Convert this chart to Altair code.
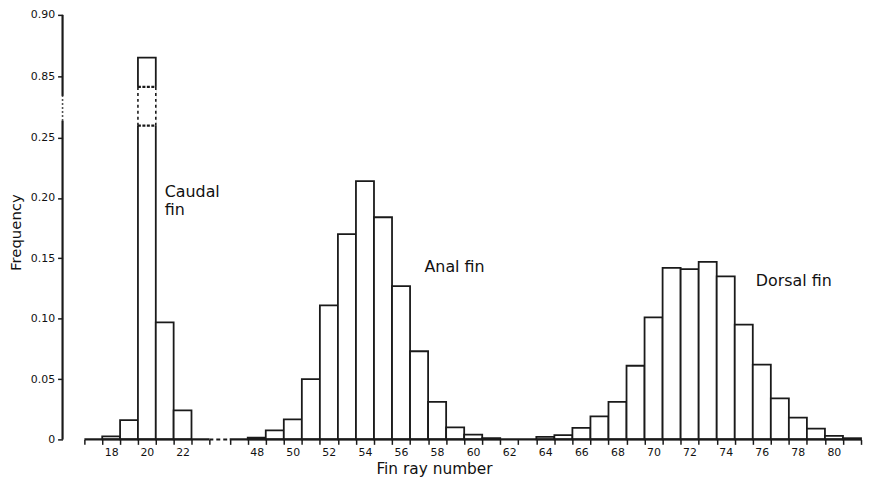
import altair as alt
import numpy as np
import pandas as pd

# ---------------- data ----------------
caudal_rays = [18, 19, 20, 21, 22]
caudal_freq = [0.0025, 0.016, 0.865, 0.097, 0.024]

anal_rays = list(range(48, 62))
anal_freq = [0.0015, 0.0074, 0.0165, 0.050, 0.111, 0.170, 0.214, 0.184,
             0.127, 0.073, 0.031, 0.010, 0.004, 0.001]

dorsal_rays = list(range(64, 82))
dorsal_freq = [0.002, 0.0035, 0.0095, 0.019, 0.031, 0.061, 0.101, 0.142,
               0.141, 0.147, 0.135, 0.095, 0.062, 0.034, 0.018, 0.009,
               0.003, 0.001]

x_tick_labels = [18, 20, 22, 48, 50, 52, 54, 56, 58, 60, 62, 64, 66, 68,
                 70, 72, 74, 76, 78, 80]
y_tick_values = [0, 0.05, 0.10, 0.15, 0.20, 0.25, 0.85, 0.90]

# broken axes: x (caudal part | fins part), y (0-0.25 | 0.85-0.90)
x_axis_solid = [(16.5, 23.5), (46.5, 81.5)]
x_axis_dashed = [(23.5, 46.5)]
y_axis_solid = [(0.0, 0.415), (0.656, 0.90)]
y_axis_dotted = [(0.415, 0.656)]
caudal_break = (0.366, 0.744)  # broken part of the tall caudal bar (ray 20)

annotations = [
    ("Caudal", 21.0, 0.205),
    ("fin", 21.0, 0.190),
    ("Anal fin", 57.3, 0.143),
    ("Dorsal fin", 75.67, 0.1315),
]

# ---------------- tables ----------------
rows = []
for fin, rays, freqs in [("Caudal", caudal_rays, caudal_freq),
                         ("Anal", anal_rays, anal_freq),
                         ("Dorsal", dorsal_rays, dorsal_freq)]:
    for r, f in zip(rays, freqs):
        rows.append({"fin": fin, "ray": r, "freq": f})
bars_df = pd.DataFrame(rows)

tick_edges = [float(v) for a, b in x_axis_solid for v in np.arange(a, b + 0.01, 1.0)]

xsolid_df = pd.DataFrame([{"a": a, "b": b} for a, b in x_axis_solid])
xdash_df = pd.DataFrame([{"a": a, "b": b} for a, b in x_axis_dashed])
ysolid_df = pd.DataFrame([{"a": a, "b": b} for a, b in y_axis_solid])
ydot_df = pd.DataFrame([{"a": a, "b": b} for a, b in y_axis_dotted])

big_ray = caudal_rays[int(np.argmax(caudal_freq))]
break_df = pd.DataFrame([{"ray": big_ray, "lo": caudal_break[0], "hi": caudal_break[1]}])
break_sides_df = pd.DataFrame([{"x": big_ray - 0.5}, {"x": big_ray + 0.5}])
break_lines_df = pd.DataFrame([{"y": caudal_break[0], "ray": big_ray},
                               {"y": caudal_break[1], "ray": big_ray}])
ann_df = pd.DataFrame(annotations, columns=["text", "x", "y"])

# ---------------- scales / axes ----------------
INK = "#1a1a1a"
FONT = "DejaVu Sans"

xscale = alt.Scale(domain=[16.5, 23.5, 46.5, 81.5], range=[22, 148, 168.5, 805],
                   zero=False, nice=False)
yscale = alt.Scale(domain=[0, 0.25, 0.85, 0.90], range=[428, 123.7, 61.7, 0],
                   zero=False, nice=False)

label_expr = (f"indexof({x_tick_labels}, datum.value + 0.5) >= 0 ? "
              f"format(datum.value + 0.5, 'd') : ''")

xaxis = alt.Axis(values=tick_edges, labelExpr=label_expr, labelOffset=9,
                 domain=False, grid=False, ticks=True, tickSize=5, tickWidth=1.5,
                 tickColor=INK, labelFont=FONT, labelFontSize=11, labelColor="#111",
                 labelPadding=2, labelFlush=False, labelOverlap=False,
                 title="Fin ray number", titleFont=FONT, titleFontSize=15.5,
                 titleFontWeight="normal", titleColor="#111", titleX=374.5,
                 titleY=34, titleAlign="center", titleBaseline="alphabetic")

yaxis = alt.Axis(values=y_tick_values,
                 labelExpr="datum.value == 0 ? '0' : format(datum.value, '.2f')",
                 domain=False, grid=False, tickSize=5, tickWidth=1.5, tickColor=INK,
                 labelFont=FONT, labelFontSize=11, labelColor="#111", labelPadding=3,
                 labelFlush=False, labelOverlap=False,
                 title="Frequency", titleFont=FONT, titleFontSize=15,
                 titleFontWeight="normal", titleColor="#111", titleAngle=270,
                 titleX=-47, titleY=219, titleAlign="center", titleBaseline="middle")


def X(field):
    return alt.X(field, scale=xscale, axis=xaxis)


def Y(field):
    return alt.Y(field, scale=yscale, axis=yaxis)


# ---------------- layers ----------------
bars = alt.Chart(bars_df).transform_calculate(
    lo="datum.ray - 0.5", hi="datum.ray + 0.5", base="0"
).mark_rect(fill="white", stroke=INK, strokeWidth=1.8).encode(
    x=X("lo:Q"), x2="hi:Q",
    y=Y("base:Q"), y2="freq:Q",
)

mask = alt.Chart(break_df).transform_calculate(
    x0="datum.ray - 0.56", x1="datum.ray + 0.56"
).mark_rect(fill="white", strokeWidth=0).encode(
    x=X("x0:Q"), x2="x1:Q",
    y=Y("lo:Q"), y2="hi:Q",
)

sides = alt.Chart(break_sides_df).transform_calculate(
    lo=str(caudal_break[0]), hi=str(caudal_break[1])
).mark_rule(color=INK, strokeWidth=1.6, strokeDash=[3, 3]).encode(
    x=X("x:Q"),
    y=Y("lo:Q"), y2="hi:Q",
)

waves = alt.Chart(break_lines_df).transform_calculate(
    x0="datum.ray - 0.5", x1="datum.ray + 0.5"
).mark_rule(color=INK, strokeWidth=2.2, strokeDash=[3, 1.5]).encode(
    x=X("x0:Q"), x2="x1:Q",
    y=Y("y:Q"),
)

xline_solid = alt.Chart(xsolid_df).transform_calculate(base="0").mark_rule(
    color=INK, strokeWidth=2.4).encode(
    x=X("a:Q"), x2="b:Q",
    y=Y("base:Q"),
)
xline_dash = alt.Chart(xdash_df).transform_calculate(base="0").mark_rule(
    color=INK, strokeWidth=2, strokeDash=[4, 3]).encode(
    x=X("a:Q"), x2="b:Q",
    y=Y("base:Q"),
)
yline_solid = alt.Chart(ysolid_df).mark_rule(color=INK, strokeWidth=2.2).encode(
    x=alt.value(0),
    y=Y("a:Q"), y2="b:Q",
)
yline_dot = alt.Chart(ydot_df).mark_rule(color=INK, strokeWidth=1.6,
                                         strokeDash=[1.5, 2.5]).encode(
    x=alt.value(0),
    y=Y("a:Q"), y2="b:Q",
)

texts = alt.Chart(ann_df).mark_text(align="left", baseline="middle", font=FONT,
                                    fontSize=16, color="#111").encode(
    x=X("x:Q"),
    y=Y("y:Q"),
    text="text:N",
)

chart = alt.layer(
    bars, mask, sides, waves, xline_solid, xline_dash, yline_solid, yline_dot, texts
).properties(
    width=805, height=428,
    padding={"left": 55, "top": 5, "right": 2, "bottom": 38},
    autosize=alt.AutoSizeParams(type="none"),
    background="white",
).configure_view(stroke=None)

chart.save("out.html", embed_options={"renderer": "svg", "actions": False})
